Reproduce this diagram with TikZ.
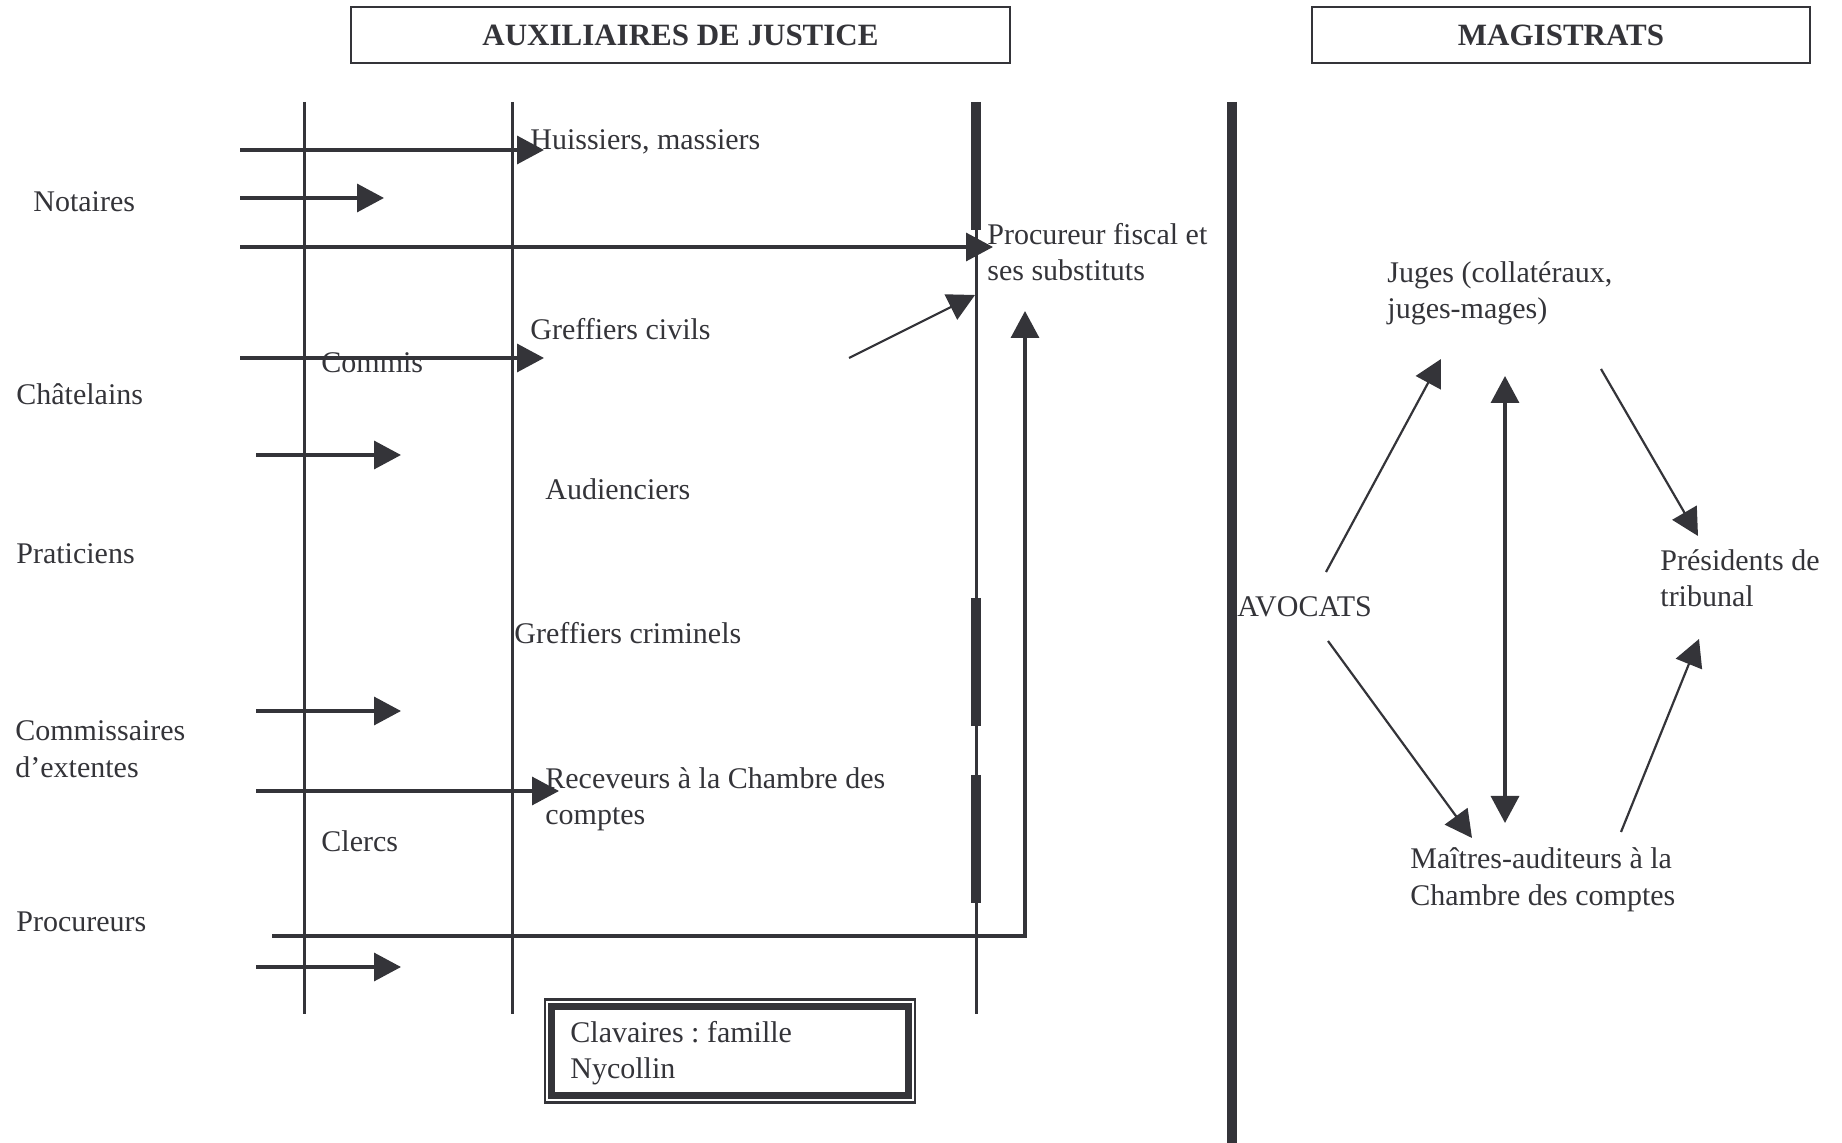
\documentclass[tikz,border=0pt]{standalone}
\usepackage{fontspec}
\setmainfont{Liberation Serif}
\usetikzlibrary{arrows.meta}
\definecolor{ink}{RGB}{52,52,57}
\frenchspacing
\begin{document}
\begin{tikzpicture}[x=0.5pt,y=-0.5pt,
  txt/.style={font=\fontsize{15}{18}\selectfont, text=ink, inner sep=0pt, anchor=base west, align=left},
  ttl/.style={font=\fontsize{15.5}{18}\selectfont\bfseries, text=ink, inner sep=0pt, draw=ink, line width=1.4pt},
  vline/.style={draw=ink, line width=1.5pt},
  heavyseg/.style={draw=ink, line width=5pt},
  harr/.style={draw=ink, line width=1.7pt, -{Triangle[length=13.5pt,width=14pt]}},
  darr/.style={draw=ink, line width=1.1pt, -{Triangle[length=13.5pt,width=14pt]}},
  varr/.style={draw=ink, line width=1.7pt, {Triangle[length=13.5pt,width=14pt]}-{Triangle[length=13.5pt,width=14pt]}},
]
\useasboundingbox (0,0) rectangle (1842,1143);

% titles
\node[ttl, minimum width=329.5pt, minimum height=28pt] (aux) at (680.5,35) {AUXILIAIRES DE JUSTICE};
\node[ttl, minimum width=249pt, minimum height=28pt] (mag) at (1561,35) {MAGISTRATS};

% vertical lines
\coordinate (v1t) at (304,102); \coordinate (v1b) at (304,1014);
\coordinate (v2t) at (512,102); \coordinate (v2b) at (512,1014);
\coordinate (v3t) at (976,102); \coordinate (v3b) at (976,1014);
\coordinate (bigt) at (1232,102); \coordinate (bigb) at (1232,1143);
\draw[vline] (v1t) -- (v1b);
\draw[vline] (v2t) -- (v2b);
\draw[vline] (v3t) -- (v3b);
\draw[heavyseg] (bigt) -- (bigb);
\coordinate (s1a) at (976,102); \coordinate (s1b) at (976,230);
\coordinate (s2a) at (976,598); \coordinate (s2b) at (976,726);
\coordinate (s3a) at (976,775); \coordinate (s3b) at (976,903);
\draw[heavyseg] (s1a) -- (s1b);
\draw[heavyseg] (s2a) -- (s2b);
\draw[heavyseg] (s3a) -- (s3b);

% left texts (anchor = baseline of last line)
\node[txt] (notaires) at (33,212) {Notaires};
\node[txt] (chatelains) at (16,405) {Châtelains};
\node[txt] (praticiens) at (16,564) {Praticiens};
\node[txt] (commissaires) at (15,777) {Commissaires\\d’extentes};
\node[txt] (procureurs) at (16,931) {Procureurs};
\node[txt] (commis) at (321,373) {Commis};
\node[txt] (clercs) at (321,851) {Clercs};
\node[txt] (huissiers) at (530,150) {Huissiers, massiers};
\node[txt] (grefciv) at (530,340) {Greffiers civils};
\node[txt] (audienciers) at (545,500) {Audienciers};
\node[txt] (grefcrim) at (514,644) {Greffiers criminels};
\node[txt] (receveurs) at (545,825) {Receveurs à la Chambre des\\comptes};
\node[txt] (procfisc) at (987,281) {Procureur fiscal et\\ses substituts};

% left arrows
\coordinate (a1s) at (240,150); \coordinate (a1e) at (544,150);
\coordinate (a2s) at (240,198); \coordinate (a2e) at (384,198);
\coordinate (a3s) at (240,247); \coordinate (a3e) at (993,247);
\coordinate (a4s) at (240,358); \coordinate (a4e) at (544,358);
\coordinate (a5s) at (256,455); \coordinate (a5e) at (401,455);
\coordinate (a6s) at (256,711); \coordinate (a6e) at (401,711);
\coordinate (a7s) at (256,791); \coordinate (a7e) at (559,791);
\coordinate (a8s) at (256,967); \coordinate (a8e) at (401,967);
\draw[harr] (a1s) -- (a1e);
\draw[harr] (a2s) -- (a2e);
\draw[harr] (a3s) -- (a3e);
\draw[harr] (a4s) -- (a4e);
\draw[harr] (a5s) -- (a5e);
\draw[harr] (a6s) -- (a6e);
\draw[harr] (a7s) -- (a7e);
\draw[harr] (a8s) -- (a8e);
\coordinate (dgs) at (849,358); \coordinate (dge) at (975,295);
\draw[darr] (dgs) -- (dge);
\coordinate (els) at (272,936); \coordinate (ele) at (1025,311);
\draw[harr] (els) -| (ele);

% Clavaires box
\node[txt] (clav) at (570,1078) {Clavaires : famille\\Nycollin};
\coordinate (cbo1) at (545,999.5); \coordinate (cbo2) at (915,1102.5);
\coordinate (cbi1) at (551.75,1006.25); \coordinate (cbi2) at (908.25,1095);
\draw[draw=ink, line width=1.25pt] (cbo1) rectangle (cbo2);
\draw[draw=ink, line width=3.5pt] (cbi1) rectangle (cbi2);

% right side
\node[txt] (juges) at (1387,319) {Juges (collatéraux,\\juges-mages)};
\node[txt] (avocats) at (1237,617) {AVOCATS};
\node[txt] (presidents) at (1660,607) {Présidents de\\tribunal};
\node[txt] (maitres) at (1410,905) {Maîtres-auditeurs à la\\Chambre des comptes};
\coordinate (r1s) at (1326,572); \coordinate (r1e) at (1441,359);
\coordinate (r2s) at (1505,823); \coordinate (r2e) at (1505,376);
\coordinate (r3s) at (1601,369); \coordinate (r3e) at (1698,536);
\coordinate (r4s) at (1328,641); \coordinate (r4e) at (1472,838);
\coordinate (r5s) at (1621,832); \coordinate (r5e) at (1699,639);
\draw[darr] (r1s) -- (r1e);
\draw[varr] (r2s) -- (r2e);
\draw[darr] (r3s) -- (r3e);
\draw[darr] (r4s) -- (r4e);
\draw[darr] (r5s) -- (r5e);
\end{tikzpicture}
\end{document}
